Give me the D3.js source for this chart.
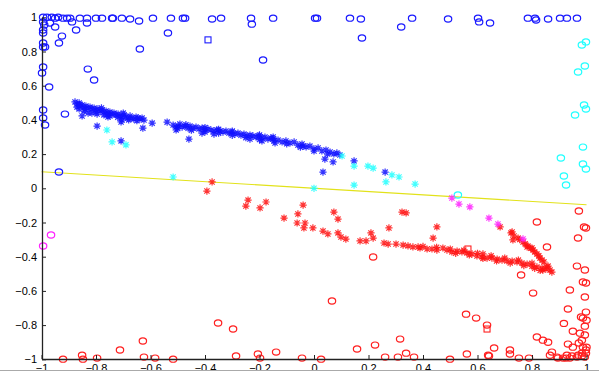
<!DOCTYPE html>
<html><head><meta charset="utf-8">
<script src="https://cdn.jsdelivr.net/npm/d3@7"></script>
<style>body{margin:0;background:#fff}svg{display:block}</style></head>
<body><svg id="c" width="599" height="376"></svg>
<script>
const xTicks=[-1,-0.8,-0.6,-0.4,-0.2,0,0.2,0.4,0.6,0.8,1];
const yTicks=[-1,-0.8,-0.6,-0.4,-0.2,0,0.2,0.4,0.6,0.8,1];
const lineSeg=[[-1,0.0965],[1,-0.0965]];

const blueCircles=[[-0.994,1.0],[-0.98,1.0],[-0.962,1.0],[-0.95,0.995],[-0.939,1.0],[-0.921,0.995],[-0.906,0.995],[-0.895,0.995],[-0.888,0.973],[-0.859,0.995],[-0.833,0.995],[-0.8,0.995],[-0.778,0.995],[-0.741,0.995],[-0.738,0.995],[-0.705,0.995],[-0.675,0.99],[-0.642,0.978],[-0.591,0.995],[-0.525,0.995],[-0.481,0.995],[-0.473,0.995],
[-0.994,0.973],[-0.99,0.955],[-0.994,0.926],[-0.994,0.908],[-0.969,0.967],[-0.95,0.943],[-0.925,0.89],[-0.936,0.85],[-0.873,0.926],[-0.833,0.967],[-0.994,0.85],[-0.994,0.826],[-0.987,0.826],[-0.639,0.815],[-0.536,0.908],[-0.994,0.709],[-0.998,0.674],[-0.83,0.697],[-0.807,0.633],[-0.972,0.592],[-0.994,0.458],[-0.914,0.434],[-0.994,0.411],[-0.987,0.37],[-0.936,0.095],
[-0.374,0.99],[-0.341,0.995],[-0.231,0.995],[-0.228,0.96],[-0.15,0.995],[0.004,0.995],[0.011,0.995],[0.132,0.995],[0.172,0.99],[0.176,0.879],[-0.187,0.75],[0.32,0.943],
[0.36,0.995],[0.492,0.99],[0.602,0.995],[0.606,0.973],[0.646,0.967],[0.785,0.995],[0.811,0.995],[0.815,0.984],[0.859,0.99],[0.903,0.995],[0.928,0.995],[0.965,0.995]];
const blueSquares=[[-0.389,0.868]];
const blueStars=[[-0.877,0.505],[-0.87,0.493],[-0.862,0.499],[-0.859,0.481],[-0.851,0.487],[-0.844,0.475],[-0.837,0.481],[-0.829,0.469],[-0.822,0.475],[-0.815,0.464],[-0.807,0.469],[-0.8,0.458],[-0.793,0.464],[-0.785,0.452],[-0.778,0.458],[-0.771,0.446],[-0.763,0.452],[-0.756,0.44],[-0.749,0.446],[-0.741,0.434],[-0.734,0.44],[-0.727,0.429],[-0.719,0.434],[-0.712,0.423],[-0.705,0.417],[-0.697,0.429],[-0.69,0.417],[-0.683,0.411],[-0.675,0.423],[-0.668,0.411],[-0.661,0.405],[-0.653,0.417],[-0.646,0.411],[-0.639,0.405],[-0.631,0.411],[-0.624,0.399],
[-0.851,0.423],[-0.829,0.44],[-0.796,0.434],[-0.749,0.423],[-0.705,0.399],[-0.708,0.388],[-0.771,0.429],[-0.756,0.417],[-0.862,0.464],[-0.844,0.452],[-0.815,0.44],
[-0.87,0.475],[-0.84,0.462],[-0.8,0.445],[-0.76,0.43],[-0.72,0.415],[-0.68,0.4],[-0.65,0.395],[-0.86,0.49],[-0.78,0.47],[-0.7,0.44],
[-0.517,0.37],[-0.506,0.358],[-0.499,0.364],[-0.492,0.376],[-0.484,0.358],[-0.473,0.364],[-0.462,0.352],[-0.455,0.364],[-0.444,0.352],[-0.433,0.358],[-0.422,0.347],[-0.411,0.352],[-0.4,0.341],[-0.389,0.347],[-0.378,0.341],[-0.367,0.335],[-0.356,0.341],[-0.345,0.335],[-0.334,0.329],[-0.323,0.335],[-0.312,0.323],[-0.301,0.329],[-0.29,0.317],[-0.279,0.323],[-0.268,0.311],[-0.257,0.317],[-0.246,0.306],[-0.235,0.311],[-0.224,0.306],[-0.213,0.3],[-0.202,0.306],[-0.191,0.294],[-0.18,0.3],[-0.169,0.288],[-0.158,0.294],[-0.147,0.277],[-0.132,0.282],[-0.117,0.271],[-0.103,0.277],[-0.088,0.265],[-0.073,0.271],[-0.059,0.253],[-0.044,0.259],[-0.029,0.242],[-0.015,0.247],[0,0.23],[0.015,0.236],[0.029,0.218],[0.044,0.224],[0.059,0.212],[0.073,0.201],[0.084,0.207],[0.095,0.195],
[-0.506,0.341],[-0.411,0.323],[-0.367,0.317],[-0.235,0.288],[-0.191,0.277],[-0.143,0.265],[-0.04,0.247],
[-0.5,0.35],[-0.45,0.34],[-0.4,0.33],[-0.35,0.322],[-0.3,0.31],[-0.25,0.296],[-0.2,0.285],[-0.15,0.29],[-0.1,0.26],[-0.05,0.24],[0.0,0.218],[0.05,0.2],[-0.2,0.312],[-0.3,0.335],[-0.4,0.355],[-0.15,0.3],[-0.47,0.372],[-0.35,0.345],
[-0.796,0.364],[-0.708,0.277],[-0.628,0.352],[-0.594,0.381],[-0.539,0.387],[-0.459,0.288],[0.04,0.171],[0.07,0.154],[0.033,0.095],[0.147,0.16],[0.261,0.095]];
const cyanCircles=[[0.998,0.856],[0.983,0.838],[0.994,0.715],[0.969,0.68],[0.991,0.487],[0.998,0.464],[0.958,0.429],[0.987,0.241],[0.906,0.177],[0.987,0.142],[0.998,0.113],[0.917,0.072],[0.925,0.019],[0.528,-0.039]];
const cyanStars=[[-0.76,0.341],[-0.741,0.271],[-0.69,0.254],[-0.517,0.066],[0.103,0.189],[0.147,0.13],[0.198,0.13],[0.217,0.118],[0.286,0.078],[0.264,0.037],[0.147,0.019],[0.312,0.066],[0.371,0.025],[0,0]];
const magentaCircles=[[-0.965,-0.273],[-0.994,-0.337]];
const magentaStars=[[0.506,-0.057],[0.532,-0.092],[0.572,-0.109],[0.642,-0.174],[0.675,-0.209],[0.767,-0.296]];
const redStars=[[-0.374,0.037],[-0.393,-0.016],[-0.242,-0.069],[-0.25,-0.104],[-0.176,-0.08],[-0.198,-0.115],[-0.04,-0.098],[-0.11,-0.174],[-0.059,-0.15],[0.073,-0.139],[0.088,-0.18],[-0.062,-0.203],[-0.033,-0.203],[-0.037,-0.232],[-0.004,-0.232],[0.033,-0.25],[0.051,-0.267],[0.088,-0.261],[0.099,-0.285],[0.117,-0.297],[0.209,-0.261],[0.217,-0.291],[0.169,-0.308],[0.191,-0.308],[0.257,-0.32],[0.275,-0.232],[0.272,-0.326],[0.301,-0.326],[0.327,-0.332],[0.323,-0.139],[0.338,-0.144],[0.363,-0.343],[0.389,-0.349],[0.415,-0.355],[0.437,-0.291],[0.451,-0.226],[0.451,-0.361],[0.473,-0.349],[0.683,-0.226],[0.727,-0.255],[0.73,-0.302],[0.734,-0.279],[0.782,-0.343],[0.8,-0.349],
[0.345,-0.337],[0.382,-0.343],[0.433,-0.355],[0.488,-0.361],[0.506,-0.372],[0.525,-0.367],[0.543,-0.372],[0.561,-0.378],[0.58,-0.384],[0.598,-0.396],[0.617,-0.402],[0.635,-0.408],[0.653,-0.408],[0.672,-0.414],[0.69,-0.42],[0.708,-0.425],[0.727,-0.425],[0.745,-0.431],[0.763,-0.437],[0.782,-0.443],[0.8,-0.455],[0.818,-0.46],[0.837,-0.466],[0.851,-0.472],[0.866,-0.478],[0.873,-0.49],
[0.723,-0.261],[0.749,-0.291],[0.767,-0.314],[0.785,-0.337],[0.804,-0.361],[0.818,-0.384],[0.829,-0.408],[0.844,-0.431],[0.859,-0.455],[0.62,-0.384],[0.84,-0.478],[0.855,-0.46],[0.837,-0.42],
[0.4,-0.34],[0.45,-0.345],[0.5,-0.355],[0.55,-0.362],[0.6,-0.38],[0.65,-0.395],[0.7,-0.408],[0.75,-0.42],[0.8,-0.438],[0.52,-0.38],[0.57,-0.39],[0.62,-0.41],[0.67,-0.425],[0.72,-0.437],[0.77,-0.452],[0.81,-0.468],[0.83,-0.48],[0.755,-0.3],[0.775,-0.325],[0.795,-0.35],[0.81,-0.372],[0.825,-0.395]];
const redCircles=[[0.972,-0.133],[0.818,-0.197],[0.991,-0.226],[0.998,-0.232],[0.969,-0.291],[0.855,-0.343],[0.217,-0.402],[0.76,-0.507],[0.804,-0.613],[0.965,-0.455],[0.994,-0.478],[0.987,-0.548],[0.998,-0.554],[0.939,-0.595],[0.994,-0.636],[0.932,-0.706],[0.998,-0.724],[0.917,-0.79],[0.987,-0.759],[1.0,-0.771],[0.558,-0.736],[0.595,-0.759],[0.635,-0.8],[0.818,-0.87],[0.84,-0.888],[0.859,-0.9],[0.95,-0.836],[0.976,-0.847],[0.994,-0.858],[0.661,-0.934],[0.642,-0.981],[0.561,-0.969],[0.719,-0.946],[0.719,-0.969],[0.752,-0.993],[0.789,-0.993],[0.338,-0.964],[0.367,-0.987],[0.499,-0.999],[0.873,-0.958],[0.895,-0.993],[0.928,-0.976],[0.95,-0.929],[0.983,-0.888],[0.998,-0.946],[0.892,-0.987],[0.914,-0.993],[0.939,-0.993],[0.965,-0.987],[0.983,-0.964],[0.994,-0.987],[1.0,-0.929],[0.932,-0.911],[0.972,-0.905],[0.987,-0.929],[0.316,-0.882],[0.066,-0.659],[-0.352,-0.788],[-0.297,-0.823],[-0.286,-0.981],[-0.206,-0.969],[-0.198,-0.993],[-0.139,-0.958],[-0.044,-0.993],[0.026,-0.999],[0.158,-0.94],[0.224,-0.917],[0.261,-0.987],[0.308,-0.987],[-0.921,-0.999],[-0.851,-0.976],[-0.848,-0.999],[-0.796,-0.993],[-0.712,-0.946],[-0.628,-0.893],[-0.624,-0.987],[-0.583,-0.993],[-0.517,-0.999],[0.639,-0.976],[0.866,-0.976],[0.925,-0.993],[0.947,-0.981],[0.969,-0.976],[0.983,-0.981],[0.998,-0.964],[0.994,-0.806],[0.98,-0.753]];
const redSquares=[[0.635,-0.823],[0.565,-0.355]];

const svg=d3.select("#c");
const x=d3.scaleLinear().domain([-1,1]).range([41.5,586.5]);
const y=d3.scaleLinear().domain([-1,1]).range([359.3,17.3]);
const fmt=d=>d3.format("~g")(d);

svg.append("path").attr("d",d3.line().x(d=>x(d[0])).y(d=>y(d[1]))(lineSeg))
  .attr("stroke","#e2e21a").attr("stroke-width",1.1).attr("fill","none");

function circles(data,color){
  svg.append("g").selectAll("ellipse").data(data).join("ellipse")
    .attr("cx",d=>x(d[0])).attr("cy",d=>y(d[1])).attr("rx",3.7).attr("ry",3.1)
    .attr("fill","none").attr("stroke",color).attr("stroke-width",1.2);
}
function squares(data,color){
  svg.append("g").selectAll("rect").data(data).join("rect")
    .attr("x",d=>x(d[0])-3).attr("y",d=>y(d[1])-3).attr("width",6).attr("height",6)
    .attr("fill","none").attr("stroke",color).attr("stroke-width",1.1);
}
const r=3.6,a=2.6;
const starPath=`M0,${-r}V${r}M${-r},0H${r}M${-a},${-a}L${a},${a}M${-a},${a}L${a},${-a}`;
function stars(data,color){
  svg.append("g").selectAll("path").data(data).join("path")
    .attr("transform",d=>`translate(${x(d[0])},${y(d[1])})`).attr("d",starPath)
    .attr("fill","none").attr("stroke",color).attr("stroke-width",1.2).attr("stroke-opacity",0.85);
}
circles(blueCircles,"#1a1aff");
squares(blueSquares,"#1a1aff");
circles(cyanCircles,"#22ffff");
circles(magentaCircles,"#ff22ff");
circles(redCircles,"#ff2020");
squares(redSquares,"#ff2020");
stars(blueStars,"#1010ff");
stars(cyanStars,"#22ffff");
stars(redStars,"#ff1010");
stars(magentaStars,"#ff22ff");

const font='"Liberation Sans", Arial, sans-serif';
const ya=svg.append("g").attr("transform","translate(42,0)")
  .call(d3.axisLeft(y).tickValues(yTicks).tickFormat(fmt).tickSizeInner(-4).tickSizeOuter(0).tickPadding(5));
const xa=svg.append("g").attr("transform","translate(0,359)")
  .call(d3.axisBottom(x).tickValues(xTicks).tickFormat(fmt).tickSizeInner(-4).tickSizeOuter(0).tickPadding(5));
[ya,xa].forEach(g=>{
  g.selectAll("text").attr("font-family",font).attr("font-size",11).attr("fill","#000");
  g.select(".domain").attr("stroke","#222").attr("stroke-width",1.3);
  g.selectAll(".tick line").attr("stroke","#222");
});
svg.append("rect").attr("x",0).attr("y",371).attr("width",599).attr("height",5).attr("fill","#fff");
svg.append("line").attr("x1",0).attr("x2",599).attr("y1",370.5).attr("y2",370.5).attr("stroke","#aaa").attr("stroke-width",1);
</script></body></html>
